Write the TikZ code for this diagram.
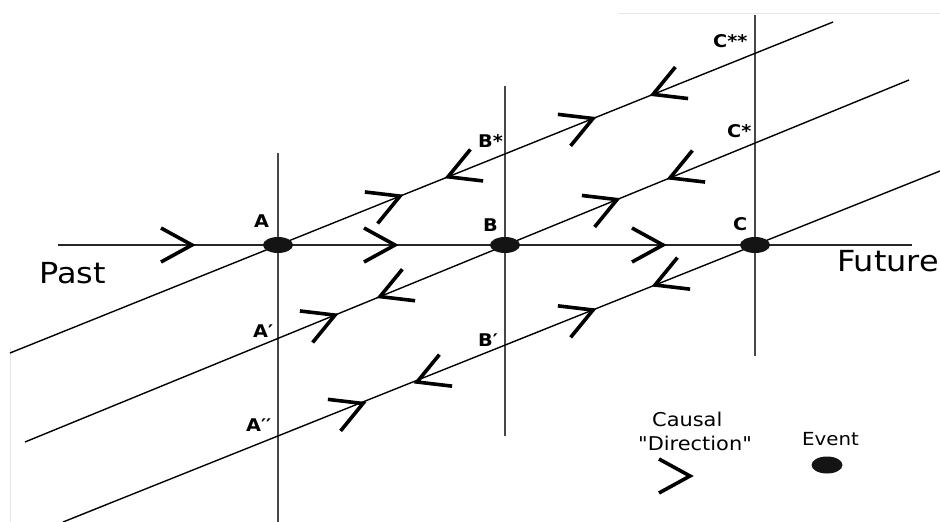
\documentclass[tikz,border=0pt]{standalone}
\usepackage{fontspec}
\usetikzlibrary{shapes.geometric}
\newfontfamily\djv[FakeStretch=1.1]{DejaVu Sans}
\begin{document}
\begin{tikzpicture}[x=1pt,y=-1pt,
  axis/.style={line width=1.6pt,draw=black!85},
  vline/.style={line width=1.8pt,draw=black!72},
  diag/.style={line width=1.4pt,draw=black},
  faint/.style={line width=1pt,draw=black!10},
  evt/.style={ellipse,fill=black!92,minimum width=30pt,minimum height=16pt,inner sep=0pt},
  lab/.style={anchor=base west,inner sep=0pt,font=\djv\bfseries\fontsize{17.5}{20}\selectfont},
  big/.style={anchor=base west,inner sep=0pt,font=\djv\fontsize{29}{32}\selectfont},
  leg/.style={anchor=base west,inner sep=0pt,font=\djv\fontsize{19}{22}\selectfont},
  chev/.pic={\draw[line width=3.6pt,line cap=butt,line join=miter] (-31,-17)--(0,0)--(-31,17);}
]
\useasboundingbox (0,0) rectangle (940,522);

% faint scan borders
\coordinate (f1) at (619,13); \coordinate (f2) at (940,13);
\coordinate (f3) at (10,348); \coordinate (f4) at (10,522);
\draw[faint] (f1) -- (f2);
\draw[faint] (f3) -- (f4);

% line end points
\coordinate (hs) at (58,245);  \coordinate (he) at (912,245);
\coordinate (vAs) at (278,153); \coordinate (vAe) at (278,522);
\coordinate (vBs) at (505,86);  \coordinate (vBe) at (505,436);
\coordinate (vCs) at (755,15);  \coordinate (vCe) at (755,356);
\coordinate (d1s) at (10,353);  \coordinate (d1e) at (833,22);
\coordinate (d2s) at (25,442);  \coordinate (d2e) at (909,80);
\coordinate (d3s) at (63,522);  \coordinate (d3e) at (940,171);

% lines
\draw[vline] (vAs) -- (vAe);
\draw[vline] (vBs) -- (vBe);
\draw[vline] (vCs) -- (vCe);
\draw[axis] (hs) -- (he);
\draw[diag] (d1s) -- (d1e);
\draw[diag] (d2s) -- (d2e);
\draw[diag] (d3s) -- (d3e);

% events
\node[evt] (A) at (278,245) {};
\node[evt] (B) at (505,245) {};
\node[evt] (C) at (755,245) {};

% causal direction chevrons
\pic at (192,245) {chev};
\pic at (395,245) {chev};
\pic at (663,245) {chev};
% line 1
\pic[rotate=22] at (400,196.1) {chev};
\pic[rotate=202] at (448,176.8) {chev};
\pic[rotate=22] at (593,118.5) {chev};
\pic[rotate=202] at (653,94.4) {chev};
% line 2
\pic[rotate=22] at (335,315.1) {chev};
\pic[rotate=202] at (380,296.6) {chev};
\pic[rotate=22] at (617,199.6) {chev};
\pic[rotate=202] at (670,177.9) {chev};
% line 3
\pic[rotate=22] at (363,403.5) {chev};
\pic[rotate=202] at (417,382) {chev};
\pic[rotate=22] at (593,310) {chev};
\pic[rotate=202] at (655,285) {chev};

% labels
\node[lab] (lA) at (254,227) {A};
\node[lab] (lB) at (483,231) {B};
\node[lab] (lC) at (733,230) {C};
\node[lab] (lBs) at (478,147) {B*};
\node[lab] (lCs) at (727,137) {C*};
\node[lab] (lCss) at (713,47) {C**};
\node[lab] (lAp) at (253,337) {A′};
\node[lab] (lApp) at (246,431) {A′′};
\node[lab] (lBp) at (478,346) {B′};

\node[big] (past) at (39,283) {Past};
\node[big] (fut) at (837,271) {Future};

% legend
\node[leg] (causal) at (652,426) {Causal};
\node[leg] (dir) at (638,450) {"Direction"};
\pic at (690,476) {chev};
\node[leg,font=\djv\fontsize{18}{21}\selectfont] (evlab) at (802,445) {Event};
\node[evt,minimum width=31pt,minimum height=17pt] (ev) at (827,465) {};
\end{tikzpicture}
\end{document}
